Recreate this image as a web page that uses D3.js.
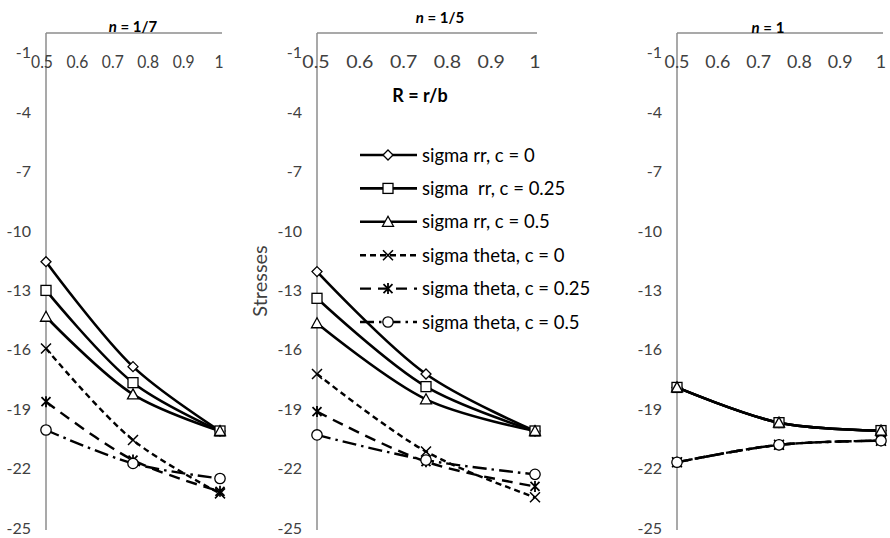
<!DOCTYPE html>
<html>
<head>
<meta charset="utf-8">
<script src="https://cdn.jsdelivr.net/npm/d3@7"></script>
<style>
    body { margin: 0; background: #fff; }
    svg { font-family: Lato, "Open Sans", sans-serif; }
</style>
</head>
<body>
<svg id="chart" width="890" height="538"></svg>
<script>
// data
const xValues = [0.5, 0.75, 1];
const xTicks = [0.5, 0.6, 0.7, 0.8, 0.9, 1];
const yTicks = [-25, -22, -19, -16, -13, -10, -7, -4, -1];
const panelTitles = ["1/7", "1/5", "1"];
const seriesNames = [
    "sigma rr, c = 0",
    "sigma  rr, c = 0.25",
    "sigma rr, c = 0.5",
    "sigma theta, c = 0",
    "sigma theta, c = 0.25",
    "sigma theta, c = 0.5",
];
// one row per series, one value per xValues entry
const stressN7 = [
    [-11.55, -16.85, -20.1],
    [-13.0, -17.66, -20.1],
    [-14.33, -18.25, -20.1],
    [-15.93, -20.56, -23.25],
    [-18.62, -21.57, -23.15],
    [-20.05, -21.74, -22.5],
];
const stressN5 = [
    [-12.05, -17.22, -20.1],
    [-13.4, -17.86, -20.1],
    [-14.66, -18.5, -20.1],
    [-17.22, -21.14, -23.45],
    [-19.12, -21.65, -22.9],
    [-20.3, -21.57, -22.29],
];
const stressN1 = [
    [-17.9, -19.68, -20.08],
    [-17.9, -19.68, -20.08],
    [-17.9, -19.68, -20.08],
    [-21.68, -20.8, -20.59],
    [-21.68, -20.8, -20.59],
    [-21.68, -20.8, -20.59],
];

const svg = d3.select("#chart");
const axisGrey = "#8c8c8c";
const textGrey = "#404040";

// series styles: marker type + dash pattern
const styles = [
    { marker: "diamond", dash: null, width: 2.6 },
    { marker: "square", dash: null, width: 2.6 },
    { marker: "triangle", dash: null, width: 2.6 },
    { marker: "x", dash: "6,4", width: 2.4 },
    { marker: "star", dash: "11,7", width: 2.4 },
    { marker: "circle", dash: "14,5,2.5,5", width: 2.4 },
];

// panel layout; sx squeezes the x tick labels like the reference does
const panels = [
    { data: stressN7, x0: 46, x1: 220, lx0: 42, lx1: 219, sx: 0.95, tx: 133, ty: 27 },
    { data: stressN5, x0: 317, x1: 535, lx0: 316, lx1: 535, sx: 1.12, tx: 440, ty: 18 },
    { data: stressN1, x0: 677, x1: 881, lx0: 677, lx1: 881, sx: 1.02, tx: 768, ty: 28 },
];

const y = d3.scaleLinear().domain([-25, 0]).range([528, 33]);

function drawMarker(g, type, cx, cy) {
    const m = g.append("g").attr("transform", `translate(${cx},${cy})`)
        .attr("fill", "#fff").attr("stroke", "#000").attr("stroke-width", 1.3);
    if (type === "diamond") {
        m.append("path").attr("d", "M0,-5L5,0L0,5L-5,0Z");
    } else if (type === "square") {
        m.append("rect").attr("x", -5).attr("y", -5).attr("width", 10).attr("height", 10);
    } else if (type === "triangle") {
        m.append("path").attr("d", "M0,-5.5L5.5,4.5L-5.5,4.5Z");
    } else if (type === "x") {
        m.append("path").attr("d", "M-5,-5L5,5M5,-5L-5,5").attr("stroke-width", 1.5);
    } else if (type === "star") {
        m.append("path").attr("d", "M-4.5,-4.5L4.5,4.5M4.5,-4.5L-4.5,4.5M0,-5.5L0,5.5")
            .attr("stroke-width", 1.8);
    } else if (type === "circle") {
        m.append("circle").attr("r", 5.2);
    }
}

panels.forEach((p, pi) => {
    const x = d3.scaleLinear().domain([0.5, 1]).range([p.x0, p.x1]);
    const xl = d3.scaleLinear().domain([0.5, 1]).range([p.lx0, p.lx1]);
    const g = svg.append("g");

    // axes
    g.append("line").attr("x1", p.x0).attr("x2", p.x1 + 2)
        .attr("y1", y(0)).attr("y2", y(0))
        .attr("stroke", axisGrey).attr("stroke-width", 1.5);
    g.append("line").attr("x1", p.x0).attr("x2", p.x0)
        .attr("y1", y(0)).attr("y2", y(-25) + 2)
        .attr("stroke", axisGrey).attr("stroke-width", 1.5);

    g.selectAll(".xt").data(xTicks).join("text")
        .attr("transform", (d) => `translate(${xl(d)},68) scale(${p.sx},1)`)
        .attr("text-anchor", "middle").attr("font-size", pi === 0 ? 16.5 : 17.5)
        .attr("fill", textGrey).text((d) => d);

    g.selectAll(".yt").data(yTicks).join("text")
        .attr("x", p.x0 - 15).attr("y", (d) => y(d) + 5.5)
        .attr("text-anchor", "end").attr("font-size", 16)
        .attr("fill", textGrey).text((d) => d);

    // title
    const t = g.append("text").attr("x", p.tx).attr("y", p.ty + 5)
        .attr("text-anchor", "middle").attr("font-size", 15)
        .attr("font-weight", "bold");
    t.append("tspan").attr("font-style", "italic").text("n");
    t.append("tspan").text(" = " + panelTitles[pi]);

    const line = d3.line()
        .x((d, i) => x(xValues[i]))
        .y((d) => y(d))
        .curve(d3.curveCatmullRom);

    p.data.forEach((vals, si) => {
        const s = styles[si];
        g.append("path").attr("d", line(vals))
            .attr("fill", "none").attr("stroke", "#000")
            .attr("stroke-width", s.width)
            .attr("stroke-dasharray", s.dash);
    });
    p.data.forEach((vals, si) => {
        vals.forEach((v, i) => drawMarker(g, styles[si].marker, x(xValues[i]), y(v)));
    });
});

// y axis title and x axis title on middle panel
svg.append("text")
    .attr("transform", "translate(267,281) rotate(-90)")
    .attr("text-anchor", "middle").attr("font-size", 20)
    .attr("fill", textGrey).text("Stresses");
svg.append("text").attr("x", 420).attr("y", 102)
    .attr("text-anchor", "middle").attr("font-size", 18)
    .attr("font-weight", "bold").text("R = r/b");

// legend
const legend = svg.append("g");
seriesNames.forEach((name, i) => {
    const ly = 155 + i * 33.4;
    const s = styles[i];
    legend.append("line").attr("x1", 360).attr("x2", 417)
        .attr("y1", ly).attr("y2", ly)
        .attr("stroke", "#000").attr("stroke-width", s.width)
        .attr("stroke-dasharray", s.dash);
    drawMarker(legend, s.marker, 388, ly);
    legend.append("text").attr("x", 422).attr("y", ly + 6.5)
        .attr("font-size", 18.5).attr("fill", "#000")
        .attr("xml:space", "preserve").style("white-space", "pre")
        .text(name);
});
</script>
</body>
</html>
